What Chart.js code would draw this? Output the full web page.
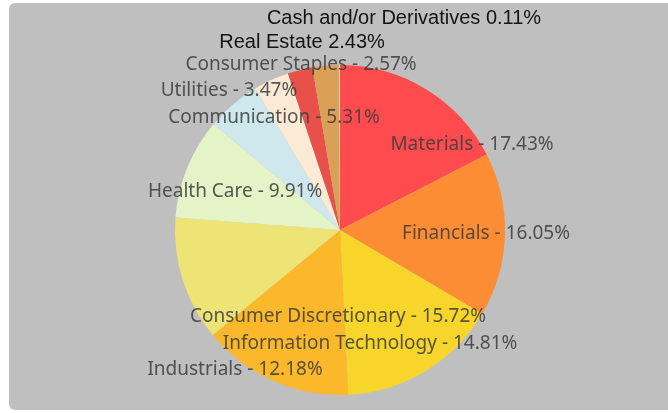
<!DOCTYPE html>
<html>
<head>
<meta charset="utf-8">
<script src="https://cdn.jsdelivr.net/npm/chart.js@4/dist/chart.umd.min.js"></script>
<style>
  html, body { margin: 0; padding: 0; background: #ffffff; }
  #wrap { position: relative; width: 668px; height: 413px; overflow: hidden; }
  #bg { position: absolute; left: 9px; top: 3px; width: 680px; height: 407px; background: #bfbfbf; border-radius: 6px; }
  canvas { position: absolute; left: 0; top: 0; }
</style>
</head>
<body>
<div id="wrap">
  <div id="bg"></div>
  <canvas id="c" width="668" height="413"></canvas>
</div>
<script>
// ---- data ----
const categories = [
  "Materials", "Financials", "Consumer Discretionary", "Information Technology",
  "Industrials", "Health Care", "Communication", "Utilities",
  "Real Estate", "Consumer Staples", "Cash and/or Derivatives"
];
const weights = [17.43, 16.05, 15.72, 14.81, 12.18, 9.91, 5.31, 3.47, 2.43, 2.57, 0.11];
const sliceColors = [
  "#fe4b4d", "#fd8d35", "#f8d52b", "#fbb82b",
  "#eee476", "#e4f4c7", "#cfe8ee", "#fdead5",
  "#e8504a", "#d9a056", "#f3e2c0"
];
// label style: "gray" => "Name - x%", "dark" => "Name x%"
const labelStyles = ["gray","gray","gray","gray","gray","gray","gray","gray","dark","gray","dark"];
// label anchor offsets, in units of the pie radius, from the pie centre
const labelOffsets = [
  [0.80, -0.515], [0.885, 0.024], [-0.012, 0.527], [0.182, 0.691],
  [-0.636, 0.848], [-0.636, -0.230], [-0.40, -0.679], [-0.673, -0.843],
  [-0.230, -1.139], [-0.236, -1.000], [0.388, -1.279]
];

const labelPlugin = {
  id: 'sliceLabels',
  afterDatasetsDraw(chart) {
    const ctx = chart.ctx;
    const meta = chart.getDatasetMeta(0);
    const arc0 = meta.data[0];
    const cx = arc0.x, cy = arc0.y, r = arc0.outerRadius;
    ctx.save();
    ctx.textAlign = 'center';
    ctx.textBaseline = 'middle';
    categories.forEach((name, i) => {
      const v = weights[i].toFixed(2) + '%';
      const x = cx + labelOffsets[i][0] * r;
      const y = cy + labelOffsets[i][1] * r;
      if (labelStyles[i] === 'dark') {
        ctx.font = '20px "Liberation Sans", Arial, sans-serif';
        ctx.fillStyle = '#141414';
        ctx.fillText(name + ' ' + v, x, y);
      } else {
        ctx.font = '19px "Noto Sans", "Open Sans", sans-serif';
        ctx.fillStyle = 'rgba(60,60,60,0.86)';
        ctx.fillText(name + ' - ' + v, x, y);
      }
    });
    ctx.restore();
  }
};

new Chart(document.getElementById('c'), {
  type: 'pie',
  data: {
    labels: categories,
    datasets: [{
      data: weights,
      backgroundColor: sliceColors,
      borderWidth: 0
    }]
  },
  options: {
    responsive: false,
    animation: false,
    layout: { padding: { left: 12, right: 0, top: 65, bottom: 18 } },
    plugins: {
      legend: { display: false },
      tooltip: { enabled: false }
    }
  },
  plugins: [labelPlugin]
});
</script>
</body>
</html>
